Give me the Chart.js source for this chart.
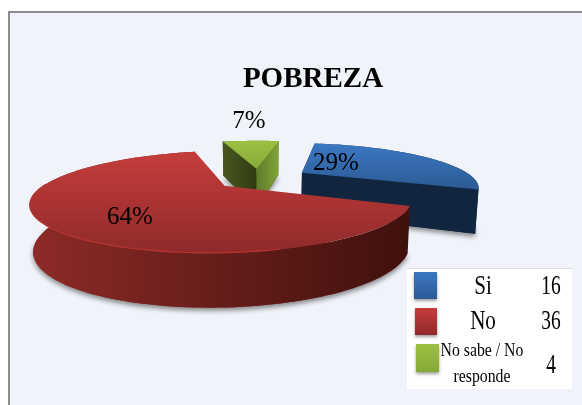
<!DOCTYPE html>
<html><head><meta charset="utf-8">
<script src="https://cdn.jsdelivr.net/npm/chart.js@4"></script>
<style>
html,body{margin:0;padding:0;background:#fff;overflow:hidden}
#frame{position:absolute;left:8px;top:11px;width:574px;height:394px;box-sizing:border-box;border-left:2px solid #8c8c8c;border-top:2px solid #8c8c8c;background:#f0f3f9}
canvas{position:absolute;left:0;top:0}
</style></head><body>
<div id="frame"></div>
<canvas id="c" width="582" height="405"></canvas>
<script>
const chartTitle = "POBREZA";
const categories = ["Si", "No", "No sabe / No responde"];
const legendLines = [["Si"], ["No"], ["No sabe / No", "responde"]];
const values = [16, 36, 4];
const baseColors = ["#3570b5", "#ae3230", "#8fb43a"];
const topShades = [["#3a78c2","#2c5a94"],["#c53d3b","#8f2a2a"],["#9dc142","#86aa38"]];
const wallShades = [["#182f4e","#12253e"],["#8d2b27","#3f100d"],["#3a4a18","#7ea338"]];
const explode = [48, 40, 40];
const labelSpots = [[336,163],[130,217],[249,121]];

const K = 0.3, A = 172, B = 41.5, DEPTH = 42, DK = 0.2, UNIT = 160;
const SERIF = '"Liberation Serif","Times New Roman",serif';

function project(arc, u, v, lower){
  const w = 1 - K*v;
  let X = A*u/w, Y = B*v/w;
  if(lower){ X *= 0.985; Y += DEPTH/(1 - DK*v); }
  return [arc.x + X, arc.y + Y];
}
function sliceGeom(arc){
  const mid = (arc.startAngle + arc.endAngle)/2;
  const d = (arc.options.offset||0)/UNIT;
  const ox = Math.cos(mid)*d, oy = Math.sin(mid)*d;
  const rim = [];
  const n = Math.max(6, Math.round((arc.endAngle-arc.startAngle)/0.03));
  for(let i=0;i<=n;i++){
    const t = arc.startAngle + (arc.endAngle-arc.startAngle)*i/n;
    rim.push([ox+Math.cos(t), oy+Math.sin(t)]);
  }
  return {apex:[ox,oy], rim};
}
function poly(ctx, pts){
  ctx.beginPath();
  pts.forEach((p,i)=> i?ctx.lineTo(p[0],p[1]):ctx.moveTo(p[0],p[1]));
  ctx.closePath();
}
function quadStrip(arc, line){
  const up = line.map(p=>project(arc,p[0],p[1],false));
  const dn = line.map(p=>project(arc,p[0],p[1],true)).reverse();
  return up.concat(dn);
}
function drawSlice(ctx, arc, idx){
  const g = sliceGeom(arc);
  const topPts = [project(arc,g.apex[0],g.apex[1],false)].concat(g.rim.map(p=>project(arc,p[0],p[1],false)));
  const botPts = [project(arc,g.apex[0],g.apex[1],true)].concat(g.rim.map(p=>project(arc,p[0],p[1],true)));
  const ys = topPts.map(p=>p[1]), xs = botPts.map(p=>p[0]).concat(topPts.map(p=>p[0]));
  const minX = Math.min(...xs), maxX = Math.max(...xs);

  // ground shadow
  ctx.save();
  ctx.shadowColor = "rgba(40,40,40,.55)"; ctx.shadowBlur = 5; ctx.shadowOffsetY = 3;
  ctx.fillStyle = wallShades[idx][0];
  poly(ctx, botPts); ctx.fill();
  ctx.restore();

  const wallFill = (x0,x1,c0,c1)=>{
    const gr = ctx.createLinearGradient(x0,0,x1,0);
    gr.addColorStop(0,c0); gr.addColorStop(1,c1); return gr;
  };
  // outer wall
  const wc = wallShades[idx];
  ctx.fillStyle = wallFill(minX,maxX,wc[0],wc[1]);
  poly(ctx, quadStrip(arc, g.rim)); ctx.fill();

  // radial walls
  const first = g.rim[0], last = g.rim[g.rim.length-1];
  const walls = [[g.apex,first],[g.apex,last]];
  walls.forEach((seg,i)=>{
    const pts = quadStrip(arc, seg);
    const xa = project(arc,seg[1][0],seg[1][1],false)[0], xb = project(arc,seg[0][0],seg[0][1],false)[0];
    if(idx===2){
      ctx.fillStyle = i===0 ? wallFill(xa,xb,"#48581f","#2f3a12") : wallFill(xb,xa,"#5d7c2c","#80a438");
    } else {
      ctx.fillStyle = wc[1];
    }
    if(idx!==1){ poly(ctx, pts); ctx.fill(); }
  });

  // top face
  const tg = ctx.createLinearGradient(0,Math.min(...ys),0,Math.max(...ys));
  tg.addColorStop(0,topShades[idx][0]); tg.addColorStop(1,topShades[idx][1]);
  ctx.fillStyle = tg;
  poly(ctx, topPts); ctx.fill();

  // lighter rim along the front-left edge of the big slice
  if(idx===1){
    ctx.save();
    ctx.strokeStyle = "#b83532"; ctx.lineWidth = 1.2;
    ctx.beginPath();
    let started = false;
    g.rim.forEach(p=>{
      if(p[1] < 0.1 || p[0] > 0.1) { return; }
      const q = project(arc,p[0],p[1],false);
      if(started) ctx.lineTo(q[0],q[1]); else { ctx.moveTo(q[0],q[1]); started = true; }
    });
    ctx.stroke();
    ctx.restore();
  }
}
function squeezed(ctx, text, x, y, font, sx){
  ctx.save();
  ctx.font = font; ctx.fillStyle = "#000"; ctx.textAlign = "center"; ctx.textBaseline = "middle";
  ctx.translate(x,y); ctx.scale(sx,1);
  ctx.fillText(text,0,0);
  ctx.restore();
}
const pie3d = {
  id:"pie3d",
  beforeDatasetsDraw(chart){
    const ctx = chart.ctx, arcs = chart.getDatasetMeta(0).data;
    // back to front: green, blue, red
    [2,0,1].forEach(i=>drawSlice(ctx, arcs[i], i));
    return false;
  },
  afterDraw(chart){
    const ctx = chart.ctx;
    const total = values.reduce((a,b)=>a+b,0);
    ctx.save();
    ctx.font = "bold 29px "+SERIF; ctx.fillStyle="#000"; ctx.textAlign="center"; ctx.textBaseline="alphabetic";
    ctx.fillText(chartTitle,313,87);
    ctx.restore();
    values.forEach((v,i)=>squeezed(ctx, Math.round(v/total*100)+"%", labelSpots[i][0], labelSpots[i][1], "26px "+SERIF, 0.96));

    // legend table
    ctx.fillStyle="#ffffff"; ctx.fillRect(407,269,165,120);
    ctx.fillStyle="#dcdcdc"; ctx.fillRect(407,268,165,1);
    const sw = [[414,272,23,27],[415,308,22,27],[416,344,23,28]];
    const numY = [287,322,366];
    const lineY = [[287],[322],[351,377]];
    values.forEach((v,i)=>{
      const s = sw[i];
      ctx.save();
      ctx.shadowColor="rgba(60,60,60,.5)"; ctx.shadowBlur=3; ctx.shadowOffsetY=2;
      const g = ctx.createLinearGradient(0,s[1],0,s[1]+s[3]);
      g.addColorStop(0,topShades[i][0]); g.addColorStop(1,topShades[i][1]);
      ctx.fillStyle=g; ctx.fillRect(s[0],s[1],s[2],s[3]);
      ctx.restore();
      const lines = legendLines[i];
      lines.forEach((t,j)=>{
        if(lines.length>1) squeezed(ctx,t,482,lineY[i][j],"19px "+SERIF,0.83);
        else squeezed(ctx,t,483,lineY[i][j],"27px "+SERIF,0.78);
      });
      squeezed(ctx,String(v),551,numY[i],"27px "+SERIF,0.72);
    });
  }
};
new Chart(document.getElementById("c"),{
  type:"pie",
  data:{labels:categories,datasets:[{data:values,backgroundColor:baseColors,offset:explode,borderWidth:0}]},
  options:{
    responsive:false,animation:false,rotation:10,
    layout:{padding:{left:0,top:0,right:65,bottom:48}},
    plugins:{legend:{display:false},tooltip:{enabled:false},title:{display:false}},
    events:[]
  },
  plugins:[pie3d]
});
</script>
</body></html>
